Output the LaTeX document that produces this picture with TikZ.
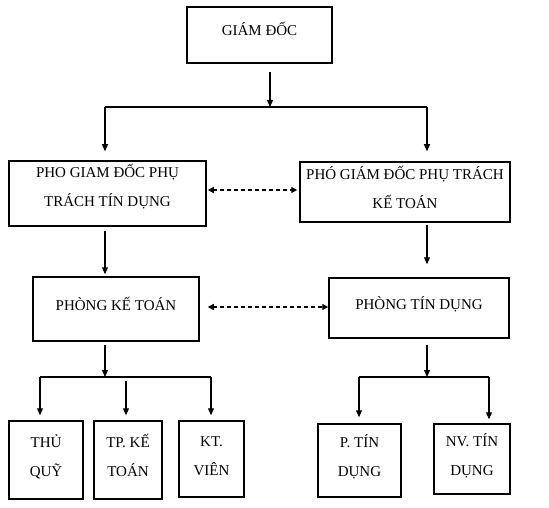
\documentclass[tikz,border=0pt]{standalone}
\usepackage{fontspec}
\setmainfont{Liberation Serif}
\usetikzlibrary{arrows.meta,calc}
\begin{document}
\begin{tikzpicture}[x=1pt,y=-1pt,
  box/.style={draw, line width=1.5pt, inner sep=0pt, align=center, font=\fontsize{15}{29}\selectfont},
  oneline/.style={text height=8pt, text depth=6pt},
  twoline/.style={text height=34pt, text depth=2pt},
  ln/.style={line width=1.2pt},
  arr/.style={line width=1.2pt, -{Triangle[width=6pt,length=7pt]}},
  darr/.style={line width=1.2pt, dash pattern=on 4pt off 3pt, {Triangle[width=6pt,length=6pt]}-{Triangle[width=6pt,length=6pt]}}]
\path[use as bounding box] (0,0) rectangle (549,508);
% boxes
\node[box, oneline, minimum width=145pt, minimum height=56pt] (gd) at (259.5,35) {GIÁM ĐỐC};
\node[box, text height=29pt, text depth=2pt, minimum width=197pt, minimum height=65pt] (p1) at (107.5,193.5) {PHO GIAM ĐỐC PHỤ\\TRÁCH TÍN DỤNG};
\node[box, twoline, minimum width=210pt, minimum height=60pt] (p2) at (405,192) {PHÓ GIÁM ĐỐC PHỤ TRÁCH\\KẾ TOÁN};
\node[box, oneline, minimum width=166pt, minimum height=64pt] (kt) at (116,309) {PHÒNG KẾ TOÁN};
\node[box, oneline, minimum width=180pt, minimum height=60pt] (td) at (419,308) {PHÒNG TÍN DỤNG};
\node[box, twoline, minimum width=74pt, minimum height=78pt] (b1) at (46,460) {THỦ\\QUỸ};
\node[box, twoline, minimum width=68pt, minimum height=78pt] (b2) at (128,460) {TP. KẾ\\TOÁN};
\node[box, twoline, minimum width=65pt, minimum height=76pt] (b3) at (211.5,459) {KT.\\VIÊN};
\node[box, twoline, minimum width=83pt, minimum height=73pt] (b4) at (359.5,460.5) {P. TÍN\\DỤNG};
\node[box, twoline, minimum width=76pt, minimum height=70pt] (b5) at (472,459) {NV. TÍN\\DỤNG};
% junctions
\coordinate (j0) at (270,107);
\coordinate (jl) at (105,107);
\coordinate (jr) at (427,107);
\coordinate (d1) at (0,190);
\coordinate (d2) at (0,307);
\coordinate (k0) at (105,377);
\coordinate (kl) at (40,377);
\coordinate (kr) at (211,377);
\coordinate (km) at (126,381);
\coordinate (t0) at (427,377);
\coordinate (tl) at (359,377);
\coordinate (tr) at (489,377);
% top level
\draw[arr] ($(gd.south -| j0)+(0,8)$) -- (j0);
\draw[ln] (jl) -- (jr);
\draw[arr] (jl) -- ($(jl |- p1.north)+(0,-9)$);
\draw[arr] (jr) -- ($(jr |- p2.north)+(0,-10)$);
\draw[darr] ($(p1.east |- d1)+(1,0)$) -- ($(p2.west |- d1)+(-2,0)$);
% middle
\draw[arr] ($(jl |- p1.south)+(0,4)$) -- ($(jl |- kt.north)+(0,-2)$);
\draw[arr] ($(jr |- p2.south)+(0,2)$) -- ($(jr |- td.north)+(0,-13)$);
\draw[darr] ($(kt.east |- d2)+(8,0)$) -- (td.west |- d2);
% bottom left
\draw[arr] ($(k0 |- kt.south)+(0,3)$) -- (k0);
\draw[ln] (kl) -- (kr);
\draw[arr] (kl) -- ($(kl |- b1.north)+(0,-5)$);
\draw[arr] (km) -- ($(km |- b2.north)+(0,-5)$);
\draw[arr] (kr) -- ($(kr |- b3.north)+(0,-5)$);
% bottom right
\draw[arr] ($(t0 |- td.south)+(0,6)$) -- (t0);
\draw[ln] (tl) -- (tr);
\draw[arr] (tl) -- ($(tl |- b4.north)+(0,-6)$);
\draw[arr] (tr) -- ($(tr |- b5.north)+(0,-4)$);
\end{tikzpicture}
\end{document}
